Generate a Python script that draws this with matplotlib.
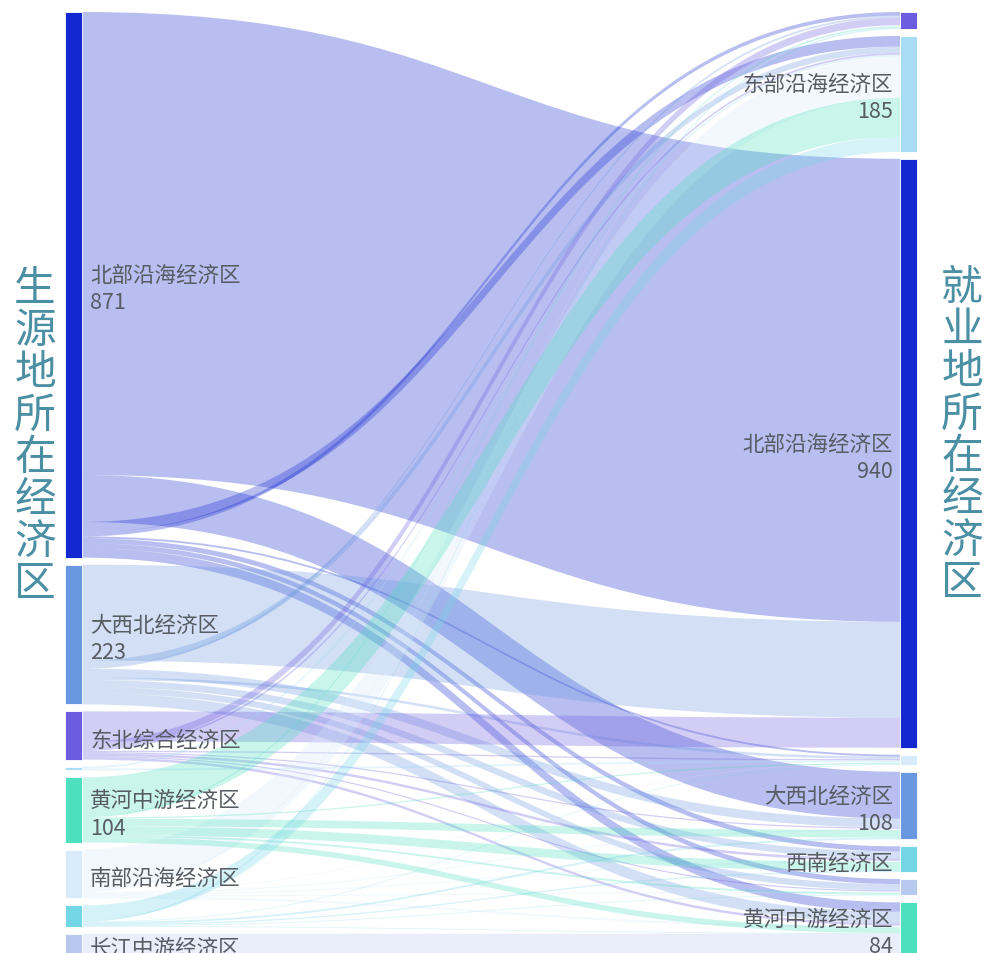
import matplotlib
matplotlib.use('Agg')
import matplotlib.pyplot as plt
from matplotlib.path import Path
from matplotlib.patches import PathPatch, Rectangle

plt.rcParams['font.family'] = ['Noto Sans CJK SC', 'DejaVu Sans']

# nodes, top to bottom in each column
src_names = ['北部沿海经济区', '大西北经济区', '东北综合经济区', '东部沿海经济区',
             '黄河中游经济区', '南部沿海经济区', '西南经济区', '长江中游经济区']
dst_names = ['东北综合经济区', '东部沿海经济区', '北部沿海经济区', '南部沿海经济区',
             '大西北经济区', '西南经济区', '长江中游经济区', '黄河中游经济区']

node_colors = {
    '北部沿海经济区': '#1428d0',
    '大西北经济区': '#6a98e0',
    '东北综合经济区': '#6c5ce0',
    '东部沿海经济区': '#a8dcf5',
    '黄河中游经济区': '#4de0bf',
    '南部沿海经济区': '#d7ebfa',
    '西南经济区': '#72d6e6',
    '长江中游经济区': '#b8c9f0',
}

# links (stacking order on both sides follows this list)
link_src = (['北部沿海经济区'] * 8 + ['大西北经济区'] * 8 + ['东北综合经济区'] * 8
            + ['东部沿海经济区'] * 2 + ['南部沿海经济区'] * 7 + ['黄河中游经济区'] * 7
            + ['西南经济区'] * 7 + ['长江中游经济区'])
link_dst = [
    '北部沿海经济区', '大西北经济区', '东部沿海经济区', '东北综合经济区', '南部沿海经济区', '西南经济区', '长江中游经济区', '黄河中游经济区',
    '北部沿海经济区', '东部沿海经济区', '东北综合经济区', '大西北经济区', '南部沿海经济区', '西南经济区', '长江中游经济区', '黄河中游经济区',
    '北部沿海经济区', '东北综合经济区', '东部沿海经济区', '南部沿海经济区', '大西北经济区', '西南经济区', '长江中游经济区', '黄河中游经济区',
    '东部沿海经济区', '南部沿海经济区',
    '东部沿海经济区', '东北综合经济区', '南部沿海经济区', '大西北经济区', '西南经济区', '长江中游经济区', '黄河中游经济区',
    '东部沿海经济区', '东北综合经济区', '南部沿海经济区', '大西北经济区', '西南经济区', '长江中游经济区', '黄河中游经济区',
    '东部沿海经济区', '东北综合经济区', '南部沿海经济区', '大西北经济区', '西南经济区', '长江中游经济区', '黄河中游经济区',
    '黄河中游经济区',
]
link_val = [
    739, 75, 17, 6, 3, 8, 8, 15,
    153, 10, 3, 14, 4, 11, 10, 18,
    48, 12, 3, 2, 2, 4, 2, 4,
    3, 3,
    66, 2, 1, 2, 2, 2, 3,
    62, 2, 2, 12, 14, 3, 9,
    24, 2, 1, 3, 2, 1, 1,
    34,
]

# labels that the chart does not show
src_hidden = ['东部沿海经济区', '西南经济区']
dst_hidden = ['东北综合经济区', '南部沿海经济区', '长江中游经济区']

W, H = 985, 954
top, bottom, gap = 13, 956, 7
node_w = 17
x_left, x_right = 65, 900

fig = plt.figure(figsize=(W / 100, H / 100), dpi=100)
ax = fig.add_axes([0, 0, 1, 1])
ax.set_xlim(0, W)
ax.set_ylim(H, 0)
ax.axis('off')

src_val = {n: 0 for n in src_names}
dst_val = {n: 0 for n in dst_names}
for s, d, v in zip(link_src, link_dst, link_val):
    src_val[s] += v
    dst_val[d] += v

ky = min((bottom - top - gap * (len(src_names) - 1)) / sum(src_val.values()),
         (bottom - top - gap * (len(dst_names) - 1)) / sum(dst_val.values()))


def stack(names, vals):
    pos = {}
    y = top
    for n in names:
        pos[n] = y
        y += vals[n] * ky + gap
    return pos


src_y = stack(src_names, src_val)
dst_y = stack(dst_names, dst_val)
src_off = dict(src_y)
dst_off = dict(dst_y)

# links
x0 = x_left + node_w
x1 = x_right
xm = (x0 + x1) / 2
for s, d, v in zip(link_src, link_dst, link_val):
    h = v * ky
    a = src_off[s]
    b = dst_off[d]
    src_off[s] += h
    dst_off[d] += h
    verts = [(x0, a), (xm, a), (xm, b), (x1, b),
             (x1, b + h), (xm, b + h), (xm, a + h), (x0, a + h), (x0, a)]
    codes = [Path.MOVETO, Path.CURVE4, Path.CURVE4, Path.CURVE4,
             Path.LINETO, Path.CURVE4, Path.CURVE4, Path.CURVE4, Path.CLOSEPOLY]
    ax.add_patch(PathPatch(Path(verts, codes), facecolor=node_colors[s],
                           alpha=0.3, edgecolor='none', zorder=1))

# nodes and labels
lab_kw = dict(fontsize=15.5, color='#575c63', va='center', linespacing=1.3, zorder=4)
dy = 4
for n in src_names:
    h = src_val[n] * ky
    ax.add_patch(Rectangle((x_left, src_y[n]), node_w, h, facecolor=node_colors[n],
                           edgecolor='white', linewidth=0.6, zorder=3))
    if n in src_hidden:
        continue
    txt = n + '\n' + str(src_val[n]) if src_val[n] >= 80 else n
    ax.text(x0 + 8, src_y[n] + h / 2 + dy, txt, ha='left', **lab_kw)

for n in dst_names:
    h = dst_val[n] * ky
    ax.add_patch(Rectangle((x_right, dst_y[n]), node_w, h, facecolor=node_colors[n],
                           edgecolor='white', linewidth=0.6, zorder=3))
    if n in dst_hidden:
        continue
    txt = n + '\n' + str(dst_val[n]) if dst_val[n] >= 80 else n
    ax.text(x_right - 7, dst_y[n] + h / 2 + dy, txt, ha='right', multialignment='right', **lab_kw)

# column titles
title_kw = dict(fontsize=30, color='#4a8fa3', ha='center', va='center', linespacing=1.04)
ax.text(35, 437, '\n'.join('生源地所在经济区'), **title_kw)
ax.text(962, 436, '\n'.join('就业地所在经济区'), **title_kw)

fig.savefig('out.png', dpi=100)
